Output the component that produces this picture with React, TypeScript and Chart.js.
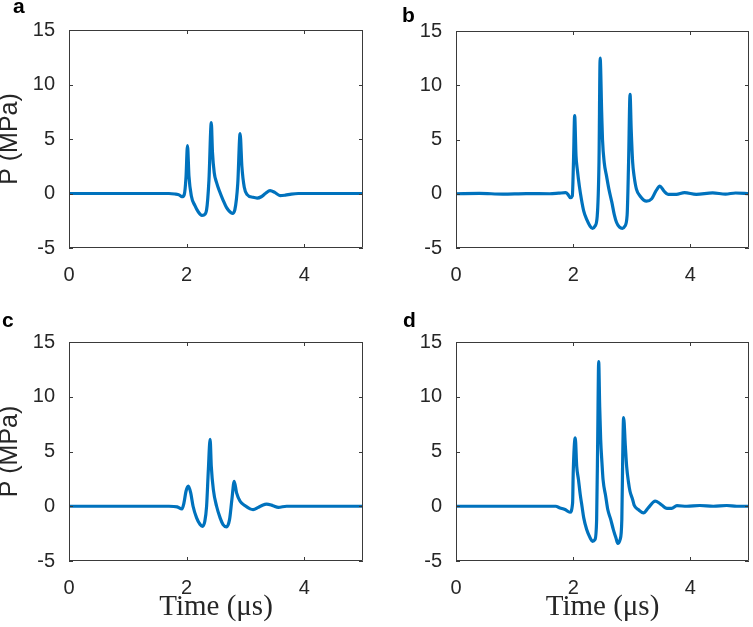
import React, { useEffect, useRef } from "react";
import { Chart, registerables } from "chart.js";

Chart.register(...registerables);

// ---- tick labels ----
const timeTicks = [0, 2, 4];
const pressureTicks = [-5, 0, 5, 10, 15];

// ---- panel a ----
const timeA = [0, 0.5, 1.0, 1.5, 1.7, 1.8, 1.88, 1.92, 1.96, 1.99, 2.015, 2.04, 2.08, 2.14, 2.2, 2.26, 2.3, 2.34, 2.38, 2.42, 2.44, 2.47, 2.51, 2.56, 2.62, 2.68, 2.74, 2.78, 2.82, 2.87, 2.91, 2.94, 2.98, 3.03, 3.13, 3.2, 3.27, 3.34, 3.42, 3.5, 3.59, 3.68, 3.78, 3.9, 4.2, 4.6, 5.0];
const pressureA = [0, 0, 0, 0, 0, -0.05, -0.15, -0.3, -0.1, 1.5, 4.4, 1.6, -0.2, -1.1, -1.7, -2.0, -1.95, -1.5, 1.2, 6.5, 3.8, 1.9, 1.0, 0.2, -0.6, -1.3, -1.7, -1.82, -1.5, 0.9, 5.5, 2.5, 0.6, -0.1, -0.35, -0.42, -0.3, 0.0, 0.26, 0.1, -0.2, -0.15, -0.05, 0, 0, 0, 0];

// ---- panel b ----
const timeB = [0, 0.4, 0.8, 1.2, 1.6, 1.75, 1.87, 1.91, 1.95, 1.985, 2.005, 2.025, 2.048, 2.07, 2.105, 2.14, 2.18, 2.23, 2.29, 2.33, 2.37, 2.41, 2.44, 2.46, 2.486, 2.5, 2.53, 2.57, 2.61, 2.66, 2.7, 2.74, 2.79, 2.84, 2.88, 2.92, 2.945, 2.97, 2.99, 3.015, 3.04, 3.08, 3.14, 3.25, 3.34, 3.41, 3.48, 3.55, 3.62, 3.76, 3.9, 4.1, 4.38, 4.6, 4.77, 5.0];
const pressureB = [0, 0.03, -0.03, 0.02, 0, 0.05, 0.1, -0.05, -0.37, -0.2, 3.0, 7.2, 3.5, 2.24, 0.7, -0.5, -1.6, -2.37, -3.0, -3.2, -3.0, -2.06, 2.86, 12.5, 7.5, 5.0, 2.86, 1.6, 0.4, -0.8, -1.9, -2.65, -3.08, -3.2, -3.0, -2.0, 2.86, 9.15, 5.9, 2.86, 1.6, 0.4, -0.2, -0.68, -0.46, 0.24, 0.7, 0.24, -0.06, -0.05, 0.1, -0.05, 0.08, -0.03, 0.07, 0];

// ---- panel c ----
const timeC = [0, 0.5, 1.0, 1.5, 1.7, 1.84, 1.92, 1.955, 1.99, 2.03, 2.07, 2.11, 2.17, 2.23, 2.27, 2.31, 2.34, 2.37, 2.4, 2.42, 2.455, 2.51, 2.57, 2.62, 2.68, 2.73, 2.77, 2.81, 2.85, 2.91, 2.99, 3.08, 3.13, 3.22, 3.29, 3.36, 3.47, 3.56, 3.7, 4.0, 4.5, 5.0];
const pressureC = [0, 0, 0, 0, 0, -0.06, -0.25, 0.3, 1.37, 1.83, 1.22, 0, -1.06, -1.67, -1.83, -1.37, 0, 3.35, 6.1, 3.65, 1.52, 0, -1.06, -1.67, -1.88, -1.22, 0.6, 2.28, 1.22, 0.46, 0.06, -0.24, -0.3, -0.1, 0.1, 0.2, 0.05, -0.1, 0, 0, 0, 0];

// ---- panel d ----
const timeD = [0, 0.5, 1.0, 1.5, 1.7, 1.775, 1.86, 1.945, 1.99, 2.0, 2.035, 2.06, 2.09, 2.12, 2.15, 2.18, 2.23, 2.29, 2.33, 2.37, 2.4, 2.418, 2.435, 2.452, 2.469, 2.491, 2.51, 2.555, 2.59, 2.64, 2.685, 2.73, 2.76, 2.8, 2.83, 2.845, 2.86, 2.89, 2.912, 2.941, 2.969, 3.015, 3.04, 3.11, 3.2, 3.28, 3.4, 3.48, 3.6, 3.68, 3.77, 3.94, 4.16, 4.39, 4.62, 4.79, 5.0];
const pressureD = [0, 0, 0, 0, 0, -0.15, -0.3, -0.55, 0.3, 3.0, 6.24, 3.65, 2.43, 1.07, 0, -1.06, -2.13, -2.9, -3.2, -3.05, -1.2, 6.1, 13.2, 9.1, 6.1, 3.95, 2.4, 0.9, -0.3, -1.2, -2.13, -2.9, -3.4, -3.05, -1.2, 4.56, 8.1, 5.5, 3.65, 2.28, 1.37, 0.6, 0.1, -0.3, -0.6, -0.15, 0.46, 0.25, -0.2, -0.2, 0.05, 0, 0.07, 0, 0.07, 0, 0];

const panelLetters = ["a", "b", "c", "d"];
const yTitleText = "P (MPa)";
const xTitleText = "Time (μs)";

const LINE_COLOR = "#0072BD";
const AXIS_COLOR = "#262626";
const BOX_COLOR = "#3a3a3a";

const boxPlugin = {
  id: "matlabBox",
  afterDatasetsDraw(chart: any) {
    const { ctx, chartArea, scales } = chart;
    const { left, right, top, bottom } = chartArea;
    const xs = scales.x;
    const ys = scales.y;
    const L = 4;
    ctx.save();
    ctx.strokeStyle = BOX_COLOR;
    ctx.lineWidth = 1;
    ctx.beginPath();
    ctx.rect(left + 0.5, top + 0.5, right - left - 1, bottom - top - 1);
    xs.ticks.forEach((tk: any) => {
      const px = Math.round(xs.getPixelForValue(tk.value)) + 0.5;
      ctx.moveTo(px, bottom);
      ctx.lineTo(px, bottom - L);
      ctx.moveTo(px, top);
      ctx.lineTo(px, top + L);
    });
    ys.ticks.forEach((tk: any) => {
      const py = Math.round(ys.getPixelForValue(tk.value)) + 0.5;
      ctx.moveTo(left, py);
      ctx.lineTo(left + L, py);
      ctx.moveTo(right, py);
      ctx.lineTo(right - L, py);
    });
    ctx.stroke();
    ctx.restore();
  },
};

type PanelProps = {
  time: number[];
  pressure: number[];
  left: number;
  top: number;
  width: number;
  height: number;
  yAxisWidth: number;
  xAxisHeight: number;
  padTop: number;
  padRight: number;
  showYTitle: boolean;
  showXTitle: boolean;
};

function Panel(props: PanelProps) {
  const ref = useRef<HTMLCanvasElement | null>(null);
  const { time, pressure, left, top, width, height, yAxisWidth, xAxisHeight, padTop, padRight, showYTitle, showXTitle } = props;

  useEffect(() => {
    if (!ref.current) return;
    const chart = new Chart(ref.current, {
      type: "line",
      data: {
        datasets: [
          {
            data: time.map((t, i) => ({ x: t, y: pressure[i] })),
            borderColor: LINE_COLOR,
            borderWidth: 3.2,
            pointRadius: 0,
            cubicInterpolationMode: "monotone",
            borderJoinStyle: "round",
            borderCapStyle: "round",
            fill: false,
          },
        ],
      },
      options: {
        responsive: false,
        animation: false,
        devicePixelRatio: 1,
        layout: { padding: { top: padTop, right: padRight, left: 0, bottom: 0 } },
        plugins: { legend: { display: false }, tooltip: { enabled: false } },
        scales: {
          x: {
            type: "linear",
            min: 0,
            max: 5,
            grid: { display: false, drawTicks: false },
            border: { display: false },
            afterBuildTicks: (s: any) => {
              s.ticks = timeTicks.map((v) => ({ value: v }));
            },
            afterFit: (s: any) => {
              s.height = xAxisHeight;
            },
            ticks: {
              padding: 15,
              color: AXIS_COLOR,
              maxRotation: 0,
              autoSkip: false,
              font: { family: "'Liberation Sans', Arial, sans-serif", size: 20 },
              callback: (v: any) => String(v),
            },
            title: {
              display: showXTitle,
              text: xTitleText,
              color: AXIS_COLOR,
              font: { family: "'Liberation Serif', 'Times New Roman', serif", size: 29, lineHeight: 1.2 },
              padding: { top: 0, bottom: 2 },
            },
          },
          y: {
            type: "linear",
            min: -5,
            max: 15,
            grid: { display: false, drawTicks: false },
            border: { display: false },
            afterBuildTicks: (s: any) => {
              s.ticks = pressureTicks.map((v) => ({ value: v }));
            },
            afterFit: (s: any) => {
              s.width = yAxisWidth;
            },
            ticks: {
              padding: 14,
              color: AXIS_COLOR,
              autoSkip: false,
              font: { family: "'Liberation Sans', Arial, sans-serif", size: 20 },
              callback: (v: any) => String(v),
            },
            title: {
              display: showYTitle,
              text: yTitleText,
              color: AXIS_COLOR,
              font: { family: "'Liberation Sans', Arial, sans-serif", size: 25, lineHeight: 0.78 },
              padding: 0,
            },
          },
        },
      },
      plugins: [boxPlugin],
    } as any);
    return () => chart.destroy();
  }, []);

  return (
    <div style={{ position: "absolute", left, top, width, height }}>
      <canvas ref={ref} width={width} height={height} style={{ display: "block", width, height }} />
    </div>
  );
}

const letterStyle = (left: number, baseline: number): React.CSSProperties => ({
  position: "absolute",
  left,
  top: baseline - 18,
  fontFamily: "'Liberation Sans', Arial, sans-serif",
  fontWeight: "bold",
  fontSize: 21,
  lineHeight: "21px",
  color: "#000",
});

export default function App() {
  return (
    <div style={{ position: "absolute", left: 0, top: 0, width: 753, height: 627, background: "#fff", overflow: "hidden" }}>
      <Panel time={timeA} pressure={pressureA} left={0} top={0} width={376} height={310} yAxisWidth={69} xAxisHeight={62} padTop={30} padRight={13} showYTitle={true} showXTitle={false} />
      <Panel time={timeB} pressure={pressureB} left={376} top={0} width={377} height={310} yAxisWidth={80} xAxisHeight={62} padTop={31} padRight={4} showYTitle={false} showXTitle={false} />
      <Panel time={timeC} pressure={pressureC} left={0} top={310} width={376} height={317} yAxisWidth={69} xAxisHeight={66} padTop={32} padRight={13} showYTitle={true} showXTitle={true} />
      <Panel time={timeD} pressure={pressureD} left={376} top={310} width={377} height={317} yAxisWidth={80} xAxisHeight={66} padTop={32} padRight={4} showYTitle={false} showXTitle={true} />
      <div style={letterStyle(13, 13)}>{panelLetters[0]}</div>
      <div style={letterStyle(402, 22)}>{panelLetters[1]}</div>
      <div style={letterStyle(2, 327)}>{panelLetters[2]}</div>
      <div style={letterStyle(403, 327)}>{panelLetters[3]}</div>
    </div>
  );
}
